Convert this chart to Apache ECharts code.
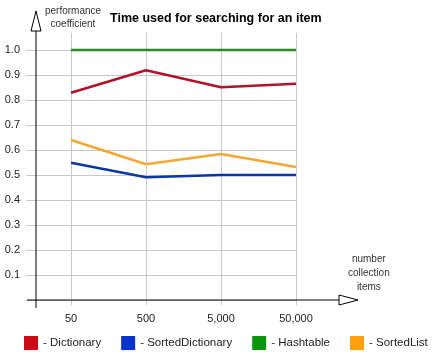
<!DOCTYPE html>
<html><head><meta charset="utf-8">
<script src="https://cdn.jsdelivr.net/npm/echarts@6/dist/echarts.min.js"></script>
<style>html,body{margin:0;padding:0;background:#fff}#c{width:445px;height:364px}</style>
</head><body><div id="c"></div>
<script>
var categories = ['50', '500', '5,000', '50,000'];
var seriesNames = ['Dictionary', 'SortedDictionary', 'Hashtable', 'SortedList'];
var dictionary = [0.829, 0.919, 0.851, 0.865];
var sortedDictionary = [0.549, 0.491, 0.500, 0.500];
var hashtable = [1.0, 1.0, 1.0, 1.0];
var sortedList = [0.640, 0.543, 0.584, 0.532];
var lineColors = ['#b3122b', '#0b36a8', '#2a8c22', '#f5a733'];
var legendColors = ['#cc0a14', '#0a33cc', '#0a960a', '#ffa00f'];
var values = [dictionary, sortedDictionary, hashtable, sortedList];

var FONT = 'Liberation Sans';
var chart = echarts.init(document.getElementById('c'), null, {renderer: 'canvas'});
var series = seriesNames.map(function (n, i) {
  return {
    name: n, type: 'line', xAxisIndex: 1, yAxisIndex: 1,
    data: values[i], symbol: 'none', z: 4,
    lineStyle: {color: lineColors[i], width: 2.5},
    itemStyle: {color: lineColors[i]}
  };
});
chart.setOption({
  animation: false,
  textStyle: {fontFamily: FONT},
  title: {
    text: 'Time used for searching for an item', left: 105, top: 7,
    textStyle: {fontFamily: FONT, fontWeight: 'bold', fontSize: 12.5, color: '#000'}
  },
  legend: {
    left: 19, top: 331, itemWidth: 14, itemHeight: 14, itemGap: 20, icon: 'rect',
    formatter: function (n) { return '- ' + n; },
    textStyle: {fontFamily: FONT, fontSize: 11.5, color: '#222'},
    data: seriesNames.map(function (n, i) { return {name: n, itemStyle: {color: legendColors[i]}}; })
  },
  grid: [
    {left: 26, right: 148, top: 50, bottom: 64},
    {left: 71, right: 149, top: 33, bottom: 59}
  ],
  xAxis: [
    {gridIndex: 0, type: 'value', min: 0, max: 1, show: false},
    {gridIndex: 1, type: 'category', boundaryGap: false, data: categories,
     axisLine: {show: false}, axisTick: {show: false},
     splitLine: {show: true, interval: 0, lineStyle: {color: '#c8c8c8', width: 1}},
     axisLabel: {margin: 8, fontSize: 11, color: '#222', fontFamily: FONT, interval: 0}}
  ],
  yAxis: [
    {gridIndex: 0, type: 'value', min: 0, max: 1, interval: 0.1,
     axisLine: {show: false}, axisTick: {show: false},
     splitLine: {lineStyle: {color: '#c8c8c8', width: 1}},
     axisLabel: {margin: 6, fontSize: 11, color: '#222', fontFamily: FONT,
       formatter: function (v) { return v === 0 ? '' : v.toFixed(1); }}},
    {gridIndex: 1, type: 'value', min: -0.02, max: 1.068, show: false}
  ],
  series: series,
  graphic: [
    {type: 'line', shape: {x1: 36, y1: 31, x2: 36, y2: 308}, style: {stroke: '#000', lineWidth: 1}, z: 10},
    {type: 'line', shape: {x1: 27, y1: 300, x2: 340, y2: 300}, style: {stroke: '#000', lineWidth: 1}, z: 10},
    {type: 'polygon', shape: {points: [[36, 11], [31, 31], [41, 31]]}, style: {fill: '#fff', stroke: '#000', lineWidth: 1}, z: 10},
    {type: 'polygon', shape: {points: [[358, 300], [339, 295], [339, 305]]}, style: {fill: '#fff', stroke: '#000', lineWidth: 1}, z: 10},
    {type: 'text', left: 45, top: 5, style: {text: 'performance\n  coefficient', font: '10px ' + FONT, fill: '#333', lineHeight: 13}, z: 10},
    {type: 'text', left: 348, top: 252, style: {text: 'number\ncollection\nitems', textAlign: 'center', font: '10px ' + FONT, fill: '#333', lineHeight: 14, align: 'center'}, z: 10}
  ]
});
</script></body></html>
